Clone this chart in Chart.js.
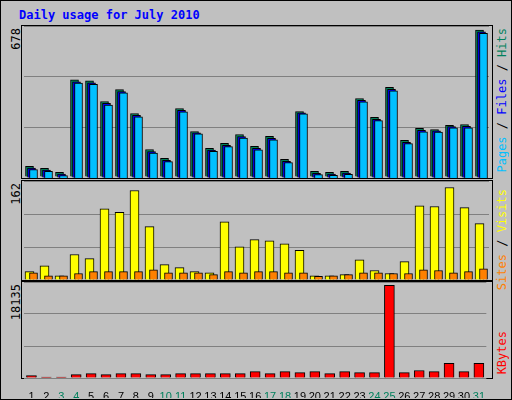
<!DOCTYPE html>
<html><head><meta charset="utf-8">
<script src="https://cdn.jsdelivr.net/npm/chart.js@4"></script>
<style>
body{margin:0;background:#c0c0c0;}
#wrap{position:absolute;left:0;top:0;width:510px;height:398px;background:#c0c0c0;border:1px solid #000;}
.frame{position:absolute;border:1px solid #000;box-sizing:border-box;}
.c{position:absolute;}
.v{position:absolute;writing-mode:vertical-rl;transform:rotate(180deg);font:12px "DejaVu Sans Mono",monospace;white-space:nowrap;}
#title{position:absolute;left:18px;top:7px;font:bold 12px "DejaVu Sans Mono",monospace;color:#0000ff;}
</style></head><body>
<div id="wrap">
<div id="title">Daily usage for July 2010</div>
<div class="frame" style="left:20px;top:24px;width:472px;height:154px"></div>
<div class="frame" style="left:20px;top:179px;width:472px;height:101px"></div>
<div class="frame" style="left:20px;top:280px;width:472px;height:98px"></div>
<div class="c" style="left:23px;top:25px;width:465px;height:152px"><canvas id="c1"></canvas></div>
<div class="c" style="left:23px;top:180px;width:465px;height:99px"><canvas id="c2"></canvas></div>
<div class="c" style="left:23px;top:281px;width:465px;height:116px"><canvas id="c3"></canvas></div>
<div class="v" style="left:8px;top:27px;color:#000">678</div>
<div class="v" style="left:8px;top:182px;color:#000">162</div>
<div class="v" style="left:8px;top:283px;color:#000">18135</div>
<div class="v" style="left:494px;top:27px;"><span style="color:#00c0ff">Pages</span> / <span style="color:#0000ff">Files</span> / <span style="color:#00805c">Hits</span></div>
<div class="v" style="left:494px;top:188px;"><span style="color:#ff8000">Sites</span> / <span style="color:#ffff00">Visits</span></div>
<div class="v" style="left:494px;top:330px;color:#ff0000">KBytes</div>
</div>
<script>
const days=['1','2','3','4','5','6','7','8','9','10','11','12','13','14','15','16','17','18','19','20','21','22','23','24','25','26','27','28','29','30','31'];
const weekend=[3,4,10,11,17,18,24,25,31];
const hits=[49,40,21,448,443,348,403,293,127,86,316,210,132,155,196,141,187,81,302,26,21,26,362,275,413,169,224,219,238,242,678];
const files=[46,37,18,444,439,344,399,289,122,82,312,208,129,151,191,137,183,77,301,22,18,23,358,271,409,165,220,217,237,238,674];
const pages=[44,35,16,442,437,341,397,287,119,80,310,208,128,149,189,135,181,76,300,20,17,21,356,269,407,163,218,216,236,236,672];
const visits=[14,24,7,43,36,120,114,151,90,26,21,14,12,98,56,68,66,61,50,7,7,9,34,16,11,31,125,124,156,122,95];
const sites=[12,7,7,11,14,14,14,14,17,12,12,12,9,14,12,14,14,12,12,6,7,9,12,12,11,11,17,16,12,14,19];
const kbytes=[460,200,200,660,860,660,860,860,660,660,860,860,860,860,860,1260,860,1260,1060,1260,860,1260,1060,1060,18135,1060,1460,1260,2850,1260,2850];

const shift={id:'shift',
 beforeDatasetDraw(ch,a){const d=ch.data.datasets[a.index];ch.ctx.save();ch.ctx.translate(d.dx||0,d.dy||0);},
 afterDatasetDraw(ch){ch.ctx.restore();}};
function ds(label,data,color,w,dx,dy){return {label,data,backgroundColor:color,borderColor:'#000',borderWidth:1,barThickness:w,grouped:false,dx,dy};}
function mk(id,sets,max,showX){
 new Chart(document.getElementById(id),{type:'bar',data:{labels:days,datasets:sets},plugins:[shift],
  options:{responsive:true,maintainAspectRatio:false,animation:false,
   layout:{padding:0},
   plugins:{legend:{display:false},tooltip:{enabled:false}},
   scales:{
    x:{display:showX,grid:{display:false},border:{display:false},
       ticks:{autoSkip:false,maxRotation:0,padding:4,font:{family:'Liberation Sans',size:11},
        color:c=>weekend.includes(c.index+1)?'#00805c':'#000'},
       afterFit:s=>{s.height=showX?20:0;}},
    y:{min:0,max:max,afterFit:s=>{s.width=0;},
       ticks:{display:false,stepSize:max/3},border:{display:false},
       grid:{color:'#808080',lineWidth:1,drawTicks:false}}
   }}});
}
mk('c1',[ds('Pages',pages,'#00c0ff',8,2,1),ds('Files',files,'#0000ff',8,0,0),ds('Hits',hits,'#00805c',8,-2,-1)],701,false);
mk('c2',[ds('Sites',sites,'#ff8000',8,2,0),ds('Visits',visits,'#ffff00',9,-2,0)],167,false);
mk('c3',[ds('KBytes',kbytes,'#ff0000',10,0,0)],18800,true);
</script>
</body></html>
